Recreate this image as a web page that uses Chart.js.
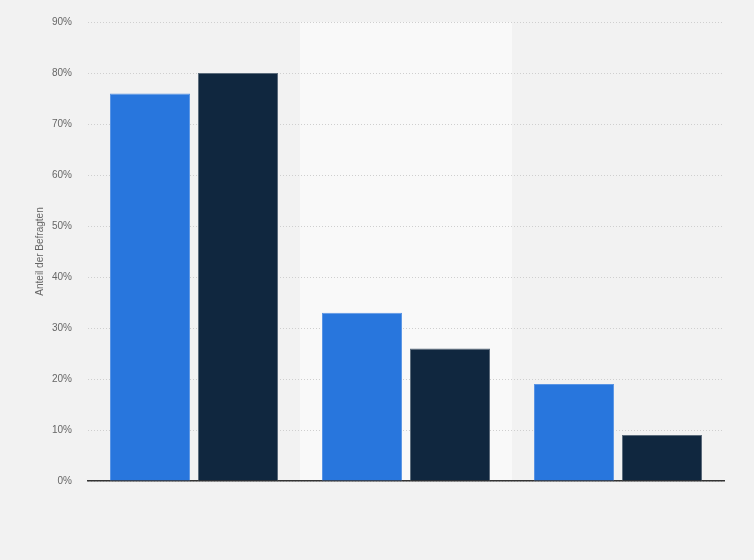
<!DOCTYPE html>
<html>
<head>
<meta charset="utf-8">
<script src="https://cdn.jsdelivr.net/npm/chart.js@4"></script>
<style>
  html, body { margin: 0; padding: 0; background: #f2f2f2; }
  #wrap { width: 754px; height: 560px; }
</style>
</head>
<body>
<div id="wrap"><canvas id="c" width="754" height="560"></canvas></div>
<script>
const categories = ["Kategorie 1", "Kategorie 2", "Kategorie 3"];
const series1 = [76, 33, 19];
const series2 = [80, 26, 9];
const seriesNames = ["Serie 1", "Serie 2"];
const yTicks = [0, 10, 20, 30, 40, 50, 60, 70, 80, 90];

const bandPlugin = {
  id: 'bands',
  beforeDraw(chart) {
    const { ctx, chartArea, scales } = chart;
    const x = scales.x;
    const n = categories.length;
    const w = (chartArea.right - chartArea.left) / n;
    ctx.save();
    ctx.fillStyle = '#f2f2f2';
    ctx.fillRect(0, 0, chart.width, chart.height);
    for (let i = 0; i < n; i++) {
      const cx = x.getPixelForValue(i);
      ctx.fillStyle = (i % 2 === 1) ? '#f9f9f9' : '#f2f2f2';
      ctx.fillRect(cx - w / 2, chartArea.top, w, chartArea.bottom - chartArea.top);
    }
    ctx.restore();
  }
};

new Chart(document.getElementById('c'), {
  type: 'bar',
  data: {
    labels: categories,
    datasets: [
      { label: seriesNames[0], data: series1, backgroundColor: '#2876dd', borderColor: '#5b95e4', borderWidth: 1 },
      { label: seriesNames[1], data: series2, backgroundColor: '#10273f', borderColor: '#5c6c7c', borderWidth: 1 }
    ]
  },
  options: {
    responsive: false,
    animation: false,
    categoryPercentage: 0.83,
    barPercentage: 0.91,
    layout: { padding: { top: 19, right: 30, bottom: 79, left: 34 } },
    plugins: { legend: { display: false }, tooltip: { enabled: false } },
    scales: {
      x: {
        grid: { display: false },
        ticks: { display: false },
        border: { display: true, color: '#333333', width: 1.5 },
        afterFit(s) { s.height = 0; }
      },
      y: {
        min: 0, max: 90,
        afterBuildTicks(s) { s.ticks = yTicks.map(v => ({ value: v })); },
        afterFit(s) { s.width = 54; },
        ticks: {
          padding: 16,
          color: '#666666',
          font: { family: 'Liberation Sans, Arial, sans-serif', size: 10 },
          callback: v => v + '%'
        },
        grid: { color: '#cfcfcf', drawTicks: false, lineWidth: 1 },
        border: { display: false, dash: [1, 2] },
        title: {
          display: true,
          text: 'Anteil der Befragten',
          color: '#666666',
          font: { family: 'Liberation Sans, Arial, sans-serif', size: 10 },
          padding: 0
        }
      }
    }
  },
  plugins: [bandPlugin]
});
</script>
</body>
</html>
